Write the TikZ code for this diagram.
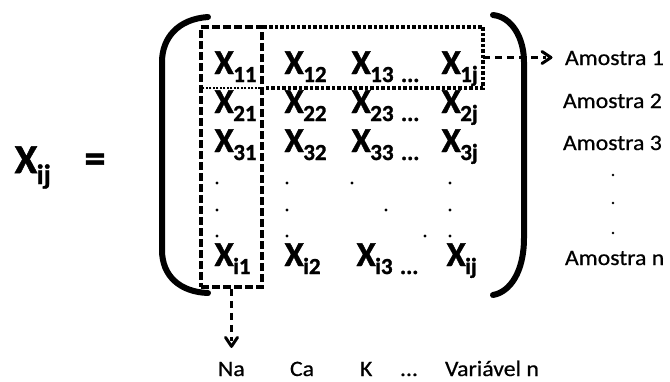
\documentclass[tikz,border=0pt]{standalone}
\usepackage{fontspec}
\setmainfont{Carlito}[BoldFeatures={FakeBold=1.2}]
\newfontfamily\lblfont{Carlito}[FakeStretch=1.08, FakeBold=0.6]
\usetikzlibrary{arrows.meta}

% matrix entry: bold X with a lowered bold index
\newcommand\mxent[1]{{\fontsize{35}{35}\selectfont\bfseries X}\kern-0.5pt\raisebox{-8pt}{\fontsize{23}{23}\selectfont\bfseries #1}}
\newcommand\mxdots{{\fontsize{23}{23}\selectfont\bfseries ...}}

\begin{document}
\begin{tikzpicture}[x=1pt,y=-1pt,
  ent/.style={anchor=base west, inner sep=0pt, outer sep=0pt},
  edots/.style={anchor=base west, inner sep=0pt, outer sep=0pt},
  lbl/.style={anchor=base west, inner sep=0pt, outer sep=0pt, font=\fontsize{22}{22}\selectfont\lblfont},
  paren/.style={line width=6pt, line cap=round},
  colbox/.style={draw, line width=3.5pt, dash pattern=on 8pt off 3pt, inner sep=0pt},
  rowline/.style={line width=3.5pt, dash pattern=on 3.5pt off 2pt},
  shaft/.style={line width=2.5pt, dash pattern=on 7pt off 5pt},
  chevron/.style={line width=3pt, solid, line cap=round, line join=round},
  mdot/.style={radius=1.7pt},
  ldot/.style={radius=1.4pt}
]
\useasboundingbox (0,0) rectangle (670,381);

% left-hand side
\node[anchor=base west, inner sep=0pt] (lhs) at (14.5,173)
  {{\fontsize{41}{41}\selectfont\bfseries X}\kern-0.5pt\raisebox{-11pt}{\fontsize{28}{28}\selectfont\bfseries ij}};
\node[inner sep=0pt, font=\fontsize{42}{42}\selectfont\bfseries] (eq) at (95,163) {=};

% brackets
\draw[paren] (208,17) .. controls (178,19) and (162,38) .. (162,62) -- (162,250)
  .. controls (162,276) and (180,292) .. (208,293);
\draw[paren] (493,15) .. controls (512,17) and (524,38) .. (524,62) -- (524,238)
  .. controls (524,272) and (510,292) .. (493,295);

% entries, row 1
\node[ent] (e11) at (214.5,74) {\mxent{11}};
\node[ent] (e12) at (284.5,74) {\mxent{12}};
\node[ent] (e13) at (351.5,74) {\mxent{13}};
\node[edots] (d1) at (401,82) {\mxdots};
\node[ent] (e1j) at (441.5,74) {\mxent{1j}};
% row 2
\node[ent] (e21) at (214.5,113) {\mxent{21}};
\node[ent] (e22) at (284.5,113) {\mxent{22}};
\node[ent] (e23) at (351.5,113) {\mxent{23}};
\node[edots] (d2) at (401,121) {\mxdots};
\node[ent] (e2j) at (441.5,113) {\mxent{2j}};
% row 3
\node[ent] (e31) at (214.5,152) {\mxent{31}};
\node[ent] (e32) at (284.5,152) {\mxent{32}};
\node[ent] (e33) at (351.5,152) {\mxent{33}};
\node[edots] (d3) at (401,160) {\mxdots};
\node[ent] (e3j) at (441.5,152) {\mxent{3j}};
% last row
\node[ent] (ei1) at (214.5,266) {\mxent{i1}};
\node[ent] (ei2) at (284.5,266) {\mxent{i2}};
\node[ent] (ei3) at (356.5,266) {\mxent{i3}};
\node[edots] (di) at (400,274) {\mxdots};
\node[ent] (eij) at (446.5,266) {\mxent{ij}};

% vertical and diagonal dots
\foreach \yy in {183,210,236} {
  \fill (217,\yy) circle[mdot];
  \fill (287,\yy) circle[mdot];
  \fill (450,\yy) circle[mdot];
}
\fill (352,183) circle[mdot];
\fill (386,210) circle[mdot];
\fill (425,236) circle[mdot];

% first column and first row frames
\node[colbox, minimum width=61pt, minimum height=260pt] (colbox) at (231.5,157) {};
\node[inner sep=0pt, minimum width=282pt, minimum height=61pt] (rowbox) at (342,57.5) {};
\draw[rowline] (rowbox.north -| colbox.east) -- (rowbox.north east)
  -- (rowbox.south east) -- (rowbox.south -| colbox.east);
\draw[line width=1.8pt, dash pattern=on 2pt off 1.5pt] (rowbox.south -| colbox.east) -- (rowbox.south west);

% sample labels
\node[lbl] (am1) at (565,65) {Amostra 1};
\node[lbl] (am2) at (563,108) {Amostra 2};
\node[lbl] (am3) at (563,150) {Amostra 3};
\node[lbl] (amn) at (565,265) {Amostra n};
\fill (613,175) circle[ldot];
\fill (613,203) circle[ldot];
\fill (613,233) circle[ldot];

% variable labels
\node[lbl] (na) at (218,376) {Na};
\node[lbl] (ca) at (290,376) {Ca};
\node[lbl] (k) at (360,376) {K};
\node[lbl] (vd) at (400,376) {...};
\node[lbl] (vn) at (445,376) {Variável n};

% pointers: dashed shafts ending in solid chevrons
\coordinate (tipr) at ([xshift=-14pt]rowbox.east -| am1.west);
\coordinate (tipd) at ([yshift=15.5pt]colbox.south |- na.north);
\draw[shaft] (rowbox.east) -- ([xshift=-5pt]tipr);
\draw[chevron] ([shift={(-9,-6)}]tipr) -- (tipr) -- ([shift={(-9,6)}]tipr);
\draw[shaft] (colbox.south) -- ([yshift=5pt]tipd);
\draw[chevron] ([shift={(-6,-9)}]tipd) -- (tipd) -- ([shift={(6,-9)}]tipd);
\end{tikzpicture}
\end{document}
